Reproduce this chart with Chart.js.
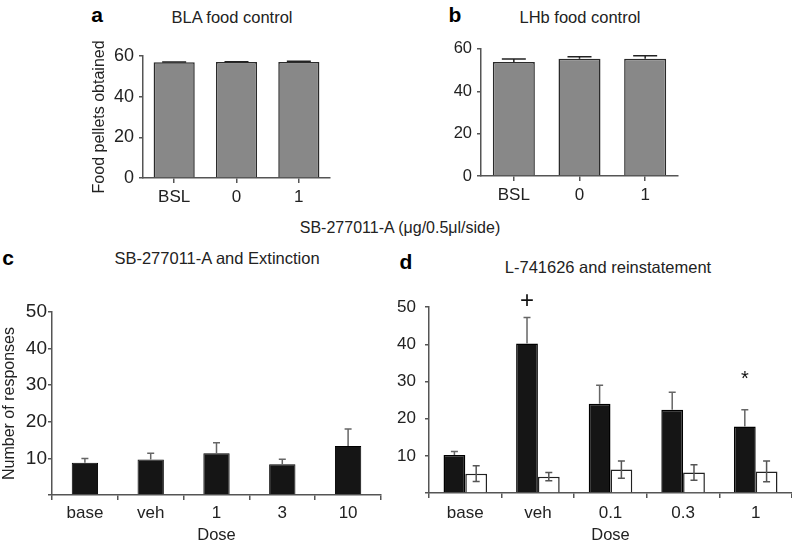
<!DOCTYPE html>
<html>
<head>
<meta charset="utf-8">
<script src="https://cdn.jsdelivr.net/npm/chart.js@4.4.1/dist/chart.umd.min.js"></script>
<style>
  body { margin:0; background:#fff; width:792px; height:547px; position:relative; overflow:hidden;
         font-family:"Liberation Sans", Arial, sans-serif; color:#222; }
  canvas { position:absolute; }
  .t { position:absolute; transform:translate(-50%,-50%); white-space:nowrap; font-size:16.5px; }
  .lt { position:absolute; transform:translate(-50%,-50%); font-weight:bold; font-size:21px; color:#000; }
</style>
</head>
<body>
<div class="lt" style="left:97px;top:15px">a</div>
<div class="t" style="left:232px;top:17px">BLA food control</div>
<div class="lt" style="left:455px;top:15px">b</div>
<div class="t" style="left:580px;top:17px">LHb food control</div>
<div class="t" style="left:400px;top:228px;font-size:16px">SB-277011-A (μg/0.5μl/side)</div>
<div class="lt" style="left:8px;top:258px">c</div>
<div class="t" style="left:217px;top:258px">SB-277011-A and Extinction</div>
<div class="lt" style="left:406px;top:262px">d</div>
<div class="t" style="left:608px;top:267px">L-741626 and reinstatement</div>

<canvas id="ca" width="250" height="175" style="left:90px;top:40px"></canvas>
<canvas id="cb" width="248" height="179" style="left:440px;top:34px"></canvas>
<canvas id="cc" width="391" height="249" style="left:0px;top:296px"></canvas>
<canvas id="cd" width="402" height="257" style="left:390px;top:288px"></canvas>

<script>
"use strict";

// --- data ---
const foodLabels = ['BSL', '0', '1'];
const blaFood    = [56.8, 56.9, 56.9];
const blaFoodErr = [0.2, 0.2, 0.4];
const lhbFood    = [53.8, 55.3, 55.4];
const lhbFoodErr = [1.4, 1.0, 1.4];

const extLabels = ['base', 'veh', '1', '3', '10'];
const extResp   = [8.8, 9.7, 11.4, 8.4, 13.4];
const extErr    = [1.2, 1.7, 2.9, 1.4, 4.6];

const reinLabels   = ['base', 'veh', '0.1', '0.3', '1'];
const reinBlack    = [10.2, 40.2, 24.0, 22.4, 17.9];
const reinBlackErr = [1.0, 7.0, 5.0, 4.7, 4.5];
const reinWhite    = [5.2, 4.4, 6.3, 5.5, 5.8];
const reinWhiteErr = [2.1, 1.1, 2.3, 2.1, 2.8];

// significance marks on panel d (dataset, index, value, symbol)
const reinMarks = [
  { ds: 0, i: 1, v: 51.7, text: '+' },
  { ds: 0, i: 4, v: 30.5, text: '*' }
];

const FONT = '"Liberation Sans", Arial, sans-serif';
const AXIS = '#555';

// error bars drawn from dataset.err through the y scale
const errBars = {
  id: 'errBars',
  afterDatasetsDraw(chart) {
    const ctx = chart.ctx, y = chart.scales.y;
    chart.data.datasets.forEach((ds, di) => {
      if (!ds.err) return;
      chart.getDatasetMeta(di).data.forEach((bar, i) => {
        const v = ds.data[i], e = ds.err[i];
        const top = y.getPixelForValue(v + e);
        const bot = ds.errBoth ? y.getPixelForValue(v - e) : bar.y;
        const cap = ds.errCap;
        ctx.save();
        ctx.strokeStyle = ds.errColor;
        ctx.lineWidth = 1.5;
        ctx.beginPath();
        ctx.moveTo(bar.x, top); ctx.lineTo(bar.x, bot);
        ctx.moveTo(bar.x - cap / 2, top); ctx.lineTo(bar.x + cap / 2, top);
        if (ds.errBoth) { ctx.moveTo(bar.x - cap / 2, bot); ctx.lineTo(bar.x + cap / 2, bot); }
        ctx.stroke();
        ctx.restore();
      });
    });
  }
};

const markPlugin = {
  id: 'marks',
  afterDatasetsDraw(chart) {
    const ctx = chart.ctx, y = chart.scales.y;
    reinMarks.forEach(m => {
      const bar = chart.getDatasetMeta(m.ds).data[m.i];
      ctx.save();
      ctx.fillStyle = '#111';
      ctx.font = (m.text === '+' ? '24px ' : '20px ') + FONT;
      ctx.textAlign = 'center';
      ctx.textBaseline = 'middle';
      ctx.fillText(m.text, bar.x, y.getPixelForValue(m.v));
      ctx.restore();
    });
  }
};

function yAxis(opts) {
  return {
    min: 0, max: opts.max,
    afterFit: s => { s.width = opts.w; },
    border: { color: AXIS, width: 1.5 },
    grid: { drawOnChartArea: false, drawTicks: true, tickLength: 4, color: AXIS, lineWidth: 1.5 },
    ticks: { stepSize: opts.step, padding: opts.pad, color: '#222',
             font: { family: FONT, size: opts.size }, callback: opts.cb },
    title: opts.title ? { display: true, text: opts.title, color: '#222',
             padding: 0, font: { family: FONT, size: 16 } } : { display: false }
  };
}

function xAxis(opts) {
  return {
    afterFit: s => { s.height = opts.h; },
    border: { color: AXIS, width: 1.5 },
    grid: { offset: opts.offset, drawOnChartArea: false, drawTicks: true, tickLength: 5, color: AXIS, lineWidth: 1.5 },
    ticks: { padding: opts.pad, color: '#222', font: { family: FONT, size: 17 } },
    title: opts.title ? { display: true, text: opts.title, color: '#222',
             padding: 0, font: { family: FONT, size: 16.5 } } : { display: false }
  };
}

function baseOpts(pad, x, y) {
  return {
    responsive: false, animation: false, devicePixelRatio: 1,
    layout: { padding: pad },
    plugins: { legend: { display: false }, tooltip: { enabled: false } },
    scales: { x: x, y: y }
  };
}

// panel a
new Chart(document.getElementById('ca'), {
  type: 'bar',
  data: { labels: foodLabels, datasets: [{
    data: blaFood, err: blaFoodErr, errCap: 24, errColor: '#222',
    backgroundColor: '#888', borderColor: '#2a2a2a', borderWidth: 1.5,
    barPercentage: 0.66, categoryPercentage: 1
  }]},
  options: baseOpts({ top: 14, right: 10, left: 0, bottom: 0 },
    xAxis({ h: 37, offset: false, pad: 4 }),
    yAxis({ max: 60, step: 20, w: 53, pad: 5, size: 18, title: 'Food pellets obtained' })),
  plugins: [errBars]
});

// panel b
new Chart(document.getElementById('cb'), {
  type: 'bar',
  data: { labels: foodLabels, datasets: [{
    data: lhbFood, err: lhbFoodErr, errCap: 24, errColor: '#222',
    backgroundColor: '#888', borderColor: '#2a2a2a', borderWidth: 1.5,
    barPercentage: 0.64, categoryPercentage: 1
  }]},
  options: baseOpts({ top: 14, right: 10, left: 0, bottom: 0 },
    xAxis({ h: 37, offset: false, pad: 4 }),
    yAxis({ max: 60, step: 20, w: 41, pad: 5, size: 16.5 })),
  plugins: [errBars]
});

// panel c
new Chart(document.getElementById('cc'), {
  type: 'bar',
  data: { labels: extLabels, datasets: [{
    data: extResp, err: extErr, errCap: 7, errColor: '#666',
    backgroundColor: '#151515', borderColor: '#000', borderWidth: 1,
    barPercentage: 0.4, categoryPercentage: 1
  }]},
  options: baseOpts({ top: 16, right: 10, left: 0, bottom: 0 },
    xAxis({ h: 50, offset: true, pad: 3, title: 'Dose' }),
    yAxis({ max: 50, step: 10, w: 52, pad: 1, size: 19, title: 'Number of responses',
            cb: v => v === 0 ? '' : v })),
  plugins: [errBars]
});

// panel d
new Chart(document.getElementById('cd'), {
  type: 'bar',
  data: { labels: reinLabels, datasets: [
    { data: reinBlack, err: reinBlackErr, errCap: 7, errColor: '#666',
      backgroundColor: '#151515', borderColor: '#000', borderWidth: 1.5,
      barPercentage: 1, categoryPercentage: 0.6 },
    { data: reinWhite, err: reinWhiteErr, errBoth: true, errCap: 7, errColor: '#555',
      backgroundColor: '#fff', borderColor: '#222', borderWidth: 1.5,
      barPercentage: 1, categoryPercentage: 0.6 }
  ]},
  options: baseOpts({ top: 14, right: 0, left: 0, bottom: 0 },
    xAxis({ h: 52, offset: true, pad: 5, title: 'Dose' }),
    yAxis({ max: 50, step: 5, w: 39, pad: 9, size: 17,
            cb: v => (v !== 0 && v % 10 === 0) ? v : '' })),
  plugins: [errBars, markPlugin]
});
</script>
</body>
</html>
